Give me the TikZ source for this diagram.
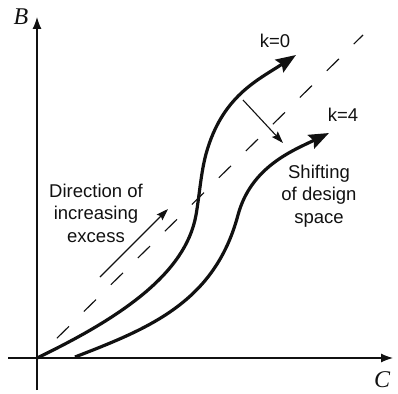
\documentclass[tikz,border=0pt]{standalone}
\usepackage{fontspec}
\setmainfont{Liberation Sans}
\newfontfamily\axisfont{Liberation Serif}
\usetikzlibrary{arrows.meta}
\definecolor{ink}{HTML}{111111}
\tikzset{
  every node/.style={font=\fontsize{18.5}{22.5}\selectfont, text=ink, inner sep=0pt},
  axislabel/.style={font=\axisfont\itshape\fontsize{24}{24}\selectfont},
  note/.style={align=center},
  axis/.style={-{Latex[length=12pt,width=9pt]}, line width=1.2pt, draw=ink},
  curve/.style={-{Stealth[length=20pt,width=15pt,inset=3pt]}, line width=3.2pt, draw=ink, line join=round},
  thinarrow/.style={-{Stealth[length=12pt,width=8pt,inset=2pt]}, line width=1.1pt, draw=ink},
  diag/.style={line width=1.1pt, draw=ink, dash pattern=on 17pt off 21pt, shorten <=28pt},
}
\begin{document}
\begin{tikzpicture}[x=1pt,y=-1pt]
\useasboundingbox (0,0) rectangle (398,393);
% axes
\coordinate (O) at (37,358);
\coordinate (ybot) at (37,390);\coordinate (ytop) at (37,17);
\coordinate (xleft) at (8,358);\coordinate (xright) at (393,358);
\draw[axis](ybot)--(ytop);\draw[axis](xleft)--(xright);
\node[axislabel] (B) at (21,17) {B};
\node[axislabel] (C) at (382,380) {C};
% diagonal
\coordinate (dend) at (363,35);
\draw[diag](O)--(dend);
% design curves
\coordinate (k0a) at (196,215);\coordinate (k0b) at (206,154);\coordinate (k0tip) at (296,55);
\coordinate (k4start) at (75,357);\coordinate (k4a) at (238,215);\coordinate (k4tip) at (329,133);
\draw[curve](O) .. controls (120,318) and (185.6,274) .. (k0a) .. controls (199.5,195.3) and (200.8,173.3) .. (k0b) .. controls (222,96) and (258,80) .. (k0tip);
\draw[curve](k4start) .. controls (150,328) and (214.7,302) .. (k4a) .. controls (251,166.7) and (293,150.5) .. (k4tip);
\node (k0) at (275,41) {k=0};
\node (k4) at (343,115) {k=4};
% notes
\coordinate (shfrom) at (243,100);\coordinate (shto) at (283,143);
\coordinate (dirfrom) at (100,277);\coordinate (dirto) at (168,209);
\draw[thinarrow](shfrom)--(shto);\draw[thinarrow](dirfrom)--(dirto);
\node[note] (dir) at (96,213) {Direction of\\increasing\\excess};
\node[note] (shift) at (319,196) {Shifting\\of design\\space};
\end{tikzpicture}
\end{document}
